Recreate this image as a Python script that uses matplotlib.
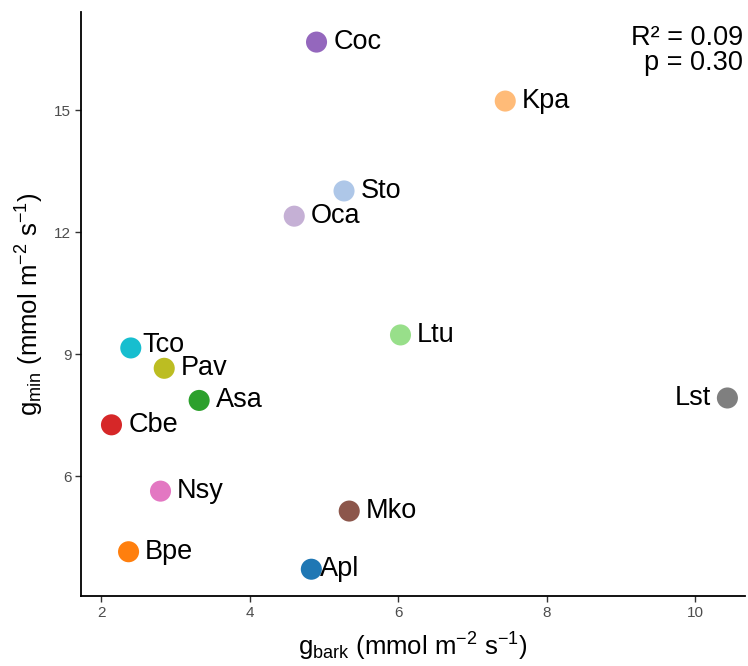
import matplotlib
matplotlib.use("Agg")
import matplotlib.pyplot as plt

plt.rcParams['font.family'] = ['Liberation Sans', 'DejaVu Sans']
plt.rcParams['mathtext.fontset'] = 'custom'
plt.rcParams['mathtext.rm'] = 'Liberation Sans'
plt.rcParams['mathtext.it'] = 'Liberation Sans'

species = ["Coc", "Kpa", "Sto", "Oca", "Ltu", "Tco", "Pav", "Asa", "Cbe",
           "Lst", "Nsy", "Mko", "Bpe", "Apl"]
g_bark = [4.90, 7.44, 5.27, 4.60, 6.03, 2.40, 2.85, 3.32, 2.14,
          10.43, 2.80, 5.34, 2.37, 4.83]
g_min = [16.67, 15.22, 13.01, 12.39, 9.47, 9.15, 8.65, 7.86, 7.26,
         7.92, 5.63, 5.14, 4.14, 3.71]
colors = ["#9467bd", "#ffbb78", "#aec7e8", "#c5b0d5", "#98df8a", "#17becf",
          "#bcbd22", "#2ca02c", "#d62728", "#7f7f7f", "#e377c2", "#8c564b",
          "#ff7f0e", "#1f77b4"]
# label placement: offset in points from the point centre
label_offsets = {"Lst": (-12, 0), "Apl": (6, 0), "Tco": (8, 2)}
r2_text = "R² = 0.09\np = 0.30"

fig = plt.figure(figsize=(7.48, 6.66), dpi=100)
ax = fig.add_axes([0.1083, 0.105, 0.888, 0.877])

ax.scatter(g_bark, g_min, s=230, c=colors, edgecolors='none', zorder=3)
for name, x, y in zip(species, g_bark, g_min):
    dx, dy = label_offsets.get(name, (12, 0))
    ha = 'right' if dx < 0 else 'left'
    ax.annotate(name, (x, y), xytext=(dx, dy), textcoords='offset points',
                ha=ha, va='center', fontsize=19.5, color='black', zorder=4)

ax.text(0.997, 0.978, r2_text, transform=ax.transAxes, ha='right', va='top',
        fontsize=19.5, linespacing=0.97)

ax.set_xlim(1.73, 10.67)
ax.set_ylim(3.05, 17.41)
ax.set_xticks([2, 4, 6, 8, 10])
ax.set_yticks([6, 9, 12, 15])

for side in ['top', 'right']:
    ax.spines[side].set_visible(False)
for side in ['left', 'bottom']:
    ax.spines[side].set_linewidth(1.3)
    ax.spines[side].set_color('black')
ax.tick_params(axis='both', length=4, width=1.0, color='#333333',
               labelsize=11, labelcolor='#4d4d4d', pad=3)

ax.set_xlabel(r'$\mathregular{g_{bark}}$ (mmol m$^{\mathregular{-2}}$ s$^{\mathregular{-1}}$)',
              fontsize=18.5, labelpad=8)
ax.set_ylabel(r'$\mathregular{g_{min}}$ (mmol m$^{\mathregular{-2}}$ s$^{\mathregular{-1}}$)',
              fontsize=18.5, labelpad=6)

fig.savefig("out.png", dpi=100)
